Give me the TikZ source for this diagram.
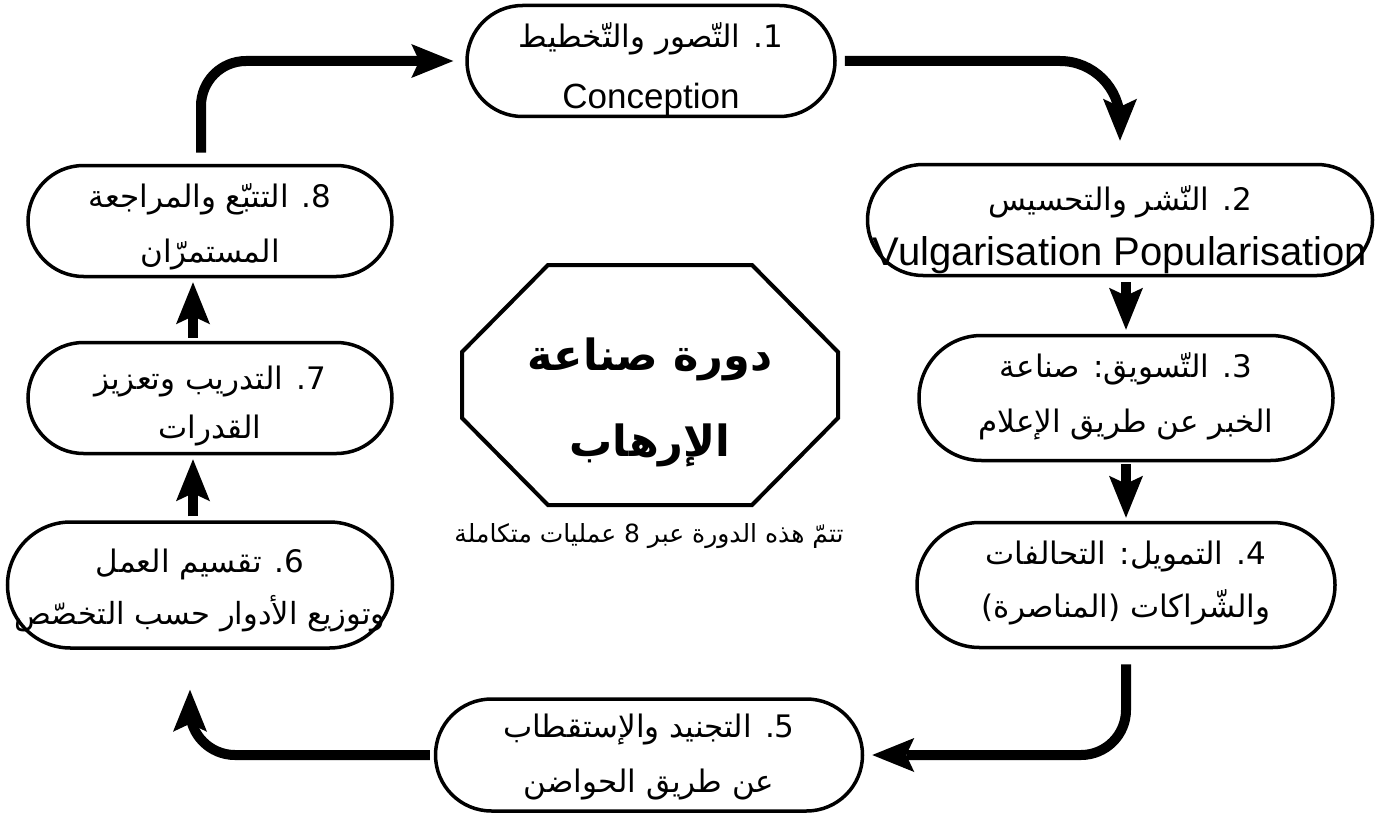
\documentclass[tikz,border=0pt]{standalone}
\usepackage{fontspec}
\setmainfont{Liberation Sans}
\newfontfamily\arabe[Script=Arabic]{DejaVu Sans}
\TeXXeTstate=1
\usetikzlibrary{arrows.meta,shapes.misc}

\tikzset{
  etape/.style={draw,line width=3.5pt,rounded rectangle,minimum height=111pt,align=center,inner sep=0pt,font=\fontsize{10}{10}\selectfont},
  fleche/.style={line width=10pt,-{Stealth[length=42pt,width=34pt,inset=8pt,line width=0pt]}},
}
% lignes sans largeur ni hauteur : la forme garde sa taille
\newcommand{\ligneA}[2][31]{\makebox[0pt]{\smash{\arabe\fontsize{#1}{36}\selectfont\beginR #2\endR}}}
\newcommand{\ligneL}[2]{\makebox[0pt]{\smash{\fontsize{#1}{36}\selectfont #2}}}
% #1 : hauteur au-dessus de la 1re ligne, #2 : ecart entre lignes (moins 10pt)
\newcommand{\deux}[4]{\rule{0pt}{#1pt}#3\\[#2pt]#4}

\begin{document}
\begin{tikzpicture}[x=1pt,y=-1pt]%
\useasboundingbox (0,0) rectangle (1384,824);%%
%%ETAPES
\node[etape,minimum width=368pt] (e1) at (651,61) {\deux{34}{51}{\ligneA{1{}. التّصور والتّخطيط}}{\ligneL{35}{Conception}}};%%
\node[etape,minimum width=505pt] (e2) at (1120,220) {\deux{36}{45}{\ligneA{2{}. النّشر والتحسيس}}{\ligneL{40}{Vulgarisation Popularisation}}};%%
\node[etape,minimum width=414pt,minimum height=125pt] (e3) at (1126,398) {\deux{14}{45}{\ligneA{3{}. التّسويق: صناعة}}{\ligneA{الخبر عن طريق الإعلام}}};%%
\node[etape,minimum width=418pt,minimum height=125pt] (e4) at (1126,585) {\deux{12}{43}{\ligneA{4{}. التمويل: التحالفات}}{\ligneA{والشّراكات (المناصرة)}}};%%
\node[etape,minimum width=427pt,minimum height=112pt] (e5) at (649,755) {\deux{19}{45}{\ligneA{5{}. التجنيد والإستقطاب}}{\ligneA{عن طريق الحواضن}}};%%
\node[etape,minimum width=385pt,minimum height=126pt] (e6) at (200,585) {\deux{26}{42}{\ligneA{6{}. تقسيم العمل}}{\ligneA[30.5]{وتوزيع الأدوار حسب التخصّص}}};%%
\node[etape,minimum width=364pt] (e7) at (210,398) {\deux{32}{39}{\ligneA{7{}. التدريب وتعزيز}}{\ligneA{القدرات}}};%%
\node[etape,minimum width=364pt] (e8) at (210,221) {\deux{27}{45}{\ligneA{8{}. التتبّع والمراجعة}}{\ligneA{المستمرّان}}};%%
%%CENTRE
\draw[line width=4pt] (548,265) -- (752,265) -- (838,352) -- (838,418) -- (752,505) -- (548,505) -- (462,418) -- (462,352) -- cycle;%%
\node[align=center,font=\arabe\bfseries\fontsize{43}{50}\selectfont] (titre) at (650,402) {\beginR دورة صناعة\endR\\[36pt]\beginR الإرهاب\endR};%%
\node[font=\arabe\fontsize{25}{30}\selectfont] (legende) at (649,536) {\beginR تتمّ هذه الدورة عبر 8 عمليات متكاملة\endR};%%
%%FLECHES
\draw[fleche,rounded corners=60pt,shorten <=8pt,shorten >=22pt] (e1.east) -| (e2.north);%%
\draw[fleche,shorten <=5pt,shorten >=4pt] (e3.north |- e2.south) -- (e3.north);%%
\draw[fleche,shorten <=2pt,shorten >=3pt] (e3.south) -- (e4.north);%%
\draw[fleche,rounded corners=45pt,shorten <=15pt,shorten >=8pt] (e4.south) |- (e5.east);%%
\draw[fleche,rounded corners=45pt,shorten <=4pt,shorten >=40pt] (e5.west) -| ([xshift=-10pt]e6.south);%%
\draw[fleche,shorten <=4pt,shorten >=4pt] ([xshift=-7pt]e6.north) -- ([xshift=-17pt]e7.south);%%
\draw[fleche,shorten <=3pt,shorten >=4pt] ([xshift=-17pt]e7.north) -- ([xshift=-17pt]e8.south);%%
\draw[fleche,rounded corners=45pt,shorten <=11pt,shorten >=12pt] ([xshift=-9pt]e8.north) |- (e1.west);%%
\end{tikzpicture}
\end{document}
